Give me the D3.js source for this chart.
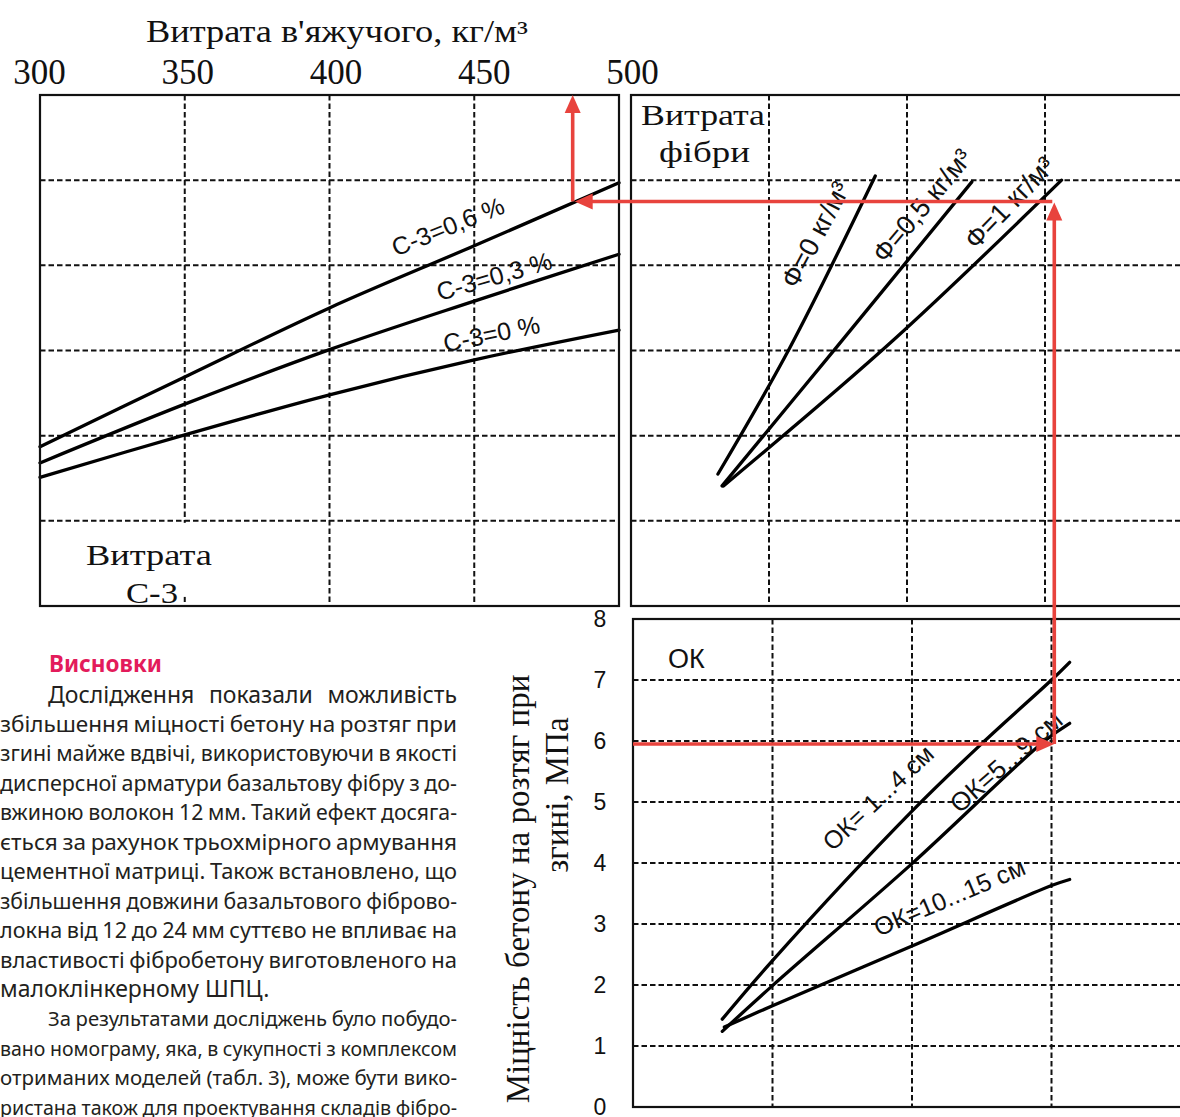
<!DOCTYPE html>
<html>
<head>
<meta charset="utf-8">
<script src="https://cdn.jsdelivr.net/npm/d3@7"></script>
<style>
  body { margin: 0; background: #fff; }
  svg { display: block; }
</style>
</head>
<body>
<svg id="nomogram" width="1180" height="1117"></svg>
<script>
// ---------- data ----------
// binder consumption, kg/m3 (top-left quadrant)
const binderTicks = [300, 350, 400, 450, 500];
const binderPoints = [300, 350, 400, 450, 500];
const c3Names = ["С-3=0,6 %", "С-3=0,3 %", "С-3=0 %"];
const c3High = [1.87, 2.69, 3.50, 4.23, 4.97];
const c3Mid = [1.68, 2.37, 3.01, 3.58, 4.13];
const c3Zero = [1.51, 2.01, 2.48, 2.89, 3.24];

// fibre consumption (top-right quadrant)
const fibreNames = ["Ф=0 кг/м³", "Ф=0,5 кг/м³", "Ф=1 кг/м³"];
const fibre0X = [0.63, 1.15, 1.77];
const fibre0Y = [1.55, 3.03, 5.05];
const fibre05X = [0.66, 1.49, 2.47];
const fibre05Y = [1.41, 3.04, 4.98];
const fibre1X = [0.67, 1.90, 3.12];
const fibre1Y = [1.41, 3.12, 5.00];

// slump, strength in MPa (bottom-right quadrant)
const slumpNames = ["ОК= 1...4 см", "ОК=5...9 см", "ОК=10...15 см"];
const slump14X = [0.64, 1.00, 2.00, 2.52, 3.00, 3.13];
const slump14Y = [1.44, 2.40, 4.85, 6.00, 7.00, 7.29];
const slump59X = [0.64, 1.00, 2.00, 2.95, 3.13];
const slump59Y = [1.24, 1.99, 3.99, 6.00, 6.29];
const slump1015X = [0.655, 1.00, 2.00, 3.00, 3.13];
const slump1015Y = [1.31, 1.66, 2.64, 3.63, 3.73];
const strengthTicks = [0, 1, 2, 3, 4, 5, 6, 7, 8];

// worked example traced through the nomogram
const exampleStrength = 5.95;
const exampleSlump = 3.02;
const exampleLevel = 4.75;
const exampleBinder = 484;

// article text beside the chart
const heading = "Висновки";
const paragraphs = [
  [
    "Дослідження показали можливість",
    "збільшення міцності бетону на розтяг при",
    "згині майже вдвічі, використовуючи в якості",
    "дисперсної арматури базальтову фібру з до-",
    "вжиною волокон 12 мм. Такий ефект досяга-",
    "ється за рахунок трьохмірного армування",
    "цементної матриці. Також встановлено, що",
    "збільшення довжини базальтового фіброво-",
    "локна від 12 до 24 мм суттєво не впливає на",
    "властивості фібробетону виготовленого на",
    "малоклінкерному ШПЦ."
  ],
  [
    "За результатами досліджень було побудо-",
    "вано номограму, яка, в сукупності з комплексом",
    "отриманих моделей (табл. 3), може бути вико-",
    "ристана також для проектування складів фібро-"
  ]
];

// ---------- layout ----------
const svg = d3.select("#nomogram");
const SERIF = "'Liberation Serif', 'Times New Roman', serif";
const SANS = "'Noto Sans', 'Open Sans', sans-serif";
const LABEL = "'Liberation Sans', Arial, sans-serif";
const RED = "#e8433d";

const pTL = { x0: 40, x1: 619, y0: 95, y1: 606 };
const pTR = { x0: 631, x1: 1195, y0: 95, y1: 606 };
const pBR = { x0: 633, x1: 1195, y0: 619, y1: 1107 };

const xBinder = d3.scaleLinear().domain([300, 500]).range([pTL.x0, pTL.x1]);
const xBinderLabel = d3.scaleLinear().domain([300, 500]).range([39, 632]);
const yLevel = d3.scaleLinear().domain([0, 6]).range([pTL.y1, pTL.y0]);
const xFibre = d3.scaleLinear().domain([0, 4]).range([631, 1183]);
const xSlump = d3.scaleLinear().domain([0, 4]).range([633, 1191]);
const yStrength = d3.scaleLinear().domain([0, 8]).range([pBR.y1, pBR.y0]);

const gridStyle = sel => sel
  .attr("stroke", "#111").attr("stroke-width", 2)
  .attr("stroke-dasharray", "5.5,3").attr("fill", "none");

function grid(g, xScale, xVals, yScale, yVals, p) {
  g.append("g").selectAll("line").data(xVals).join("line")
    .attr("x1", d => xScale(d)).attr("x2", d => xScale(d))
    .attr("y1", p.y0).attr("y2", p.y1).call(gridStyle);
  g.append("g").selectAll("line").data(yVals).join("line")
    .attr("x1", p.x0).attr("x2", p.x1)
    .attr("y1", d => yScale(d)).attr("y2", d => yScale(d)).call(gridStyle);
}

function frame(g, p) {
  g.append("rect").attr("x", p.x0).attr("y", p.y0)
    .attr("width", p.x1 - p.x0).attr("height", p.y1 - p.y0)
    .attr("fill", "none").attr("stroke", "#111").attr("stroke-width", 2.2);
}

function curve(g, xs, ys, xScale, yScale) {
  const pts = xs.map((x, i) => [x, ys[i]]);
  g.append("path").datum(pts)
    .attr("d", d3.line().x(d => xScale(d[0])).y(d => yScale(d[1])).curve(d3.curveCatmullRom.alpha(0.5)))
    .attr("fill", "none").attr("stroke", "#000").attr("stroke-width", 3.3)
    .attr("stroke-linecap", "round");
}

function tag(g, text, x, y, angle, size) {
  g.append("text").attr("transform", `translate(${x},${y}) rotate(${-angle})`)
    .attr("font-family", LABEL).attr("font-size", size).attr("fill", "#111").text(text);
}

// serif caption, widened to the printed width
function caption(g, text, x, y, size, width) {
  g.append("text").attr("x", x).attr("y", y)
    .attr("font-family", SERIF).attr("font-size", size).attr("fill", "#111")
    .attr("textLength", width).attr("lengthAdjust", "spacingAndGlyphs").text(text);
}

// ---------- top-left: binder consumption ----------
const gTL = svg.append("g");
grid(gTL, xBinder, [350, 400, 450], yLevel, [1, 2, 3, 4, 5], pTL);
// white box behind the quadrant caption
gTL.append("rect").attr("x", 80).attr("y", yLevel(1) + 2).attr("width", 150)
  .attr("height", 74).attr("fill", "#fff");
curve(gTL, binderPoints, c3High, xBinder, yLevel);
curve(gTL, binderPoints, c3Mid, xBinder, yLevel);
curve(gTL, binderPoints, c3Zero, xBinder, yLevel);
tag(gTL, c3Names[0], xBinder(423), yLevel(4.10), 22, 25);
tag(gTL, c3Names[1], xBinder(438), yLevel(3.58), 16, 25);
tag(gTL, c3Names[2], xBinder(440), yLevel(2.98), 11.5, 25);
caption(gTL, "Витрата", 86, 565, 30, 126);
caption(gTL, "С-3", 126, 603, 30, 52);
frame(gTL, pTL);

// top axis
const axTop = svg.append("g").attr("transform", "translate(0,84)")
  .call(d3.axisTop(xBinderLabel).tickValues(binderTicks).tickSize(0).tickPadding(0));
axTop.select(".domain").remove();
axTop.selectAll("text").attr("font-family", SERIF).attr("font-size", 35).attr("fill", "#111")
  .attr("dy", 0);
caption(svg, "Витрата в'яжучого, кг/м³", 146, 42, 31, 382);

// ---------- top-right: fibre consumption ----------
const gTR = svg.append("g");
grid(gTR, xFibre, [1, 2, 3], yLevel, [1, 2, 3, 4, 5], pTR);
curve(gTR, fibre0X, fibre0Y, xFibre, yLevel);
curve(gTR, fibre05X, fibre05Y, xFibre, yLevel);
curve(gTR, fibre1X, fibre1Y, xFibre, yLevel);
tag(gTR, fibreNames[0], xFibre(1.20), yLevel(3.71), 62, 27);
tag(gTR, fibreNames[1], xFibre(1.84), yLevel(4.01), 50, 27);
tag(gTR, fibreNames[2], xFibre(2.50), yLevel(4.17), 46, 27);
caption(gTR, "Витрата", 641, 125, 30, 124);
caption(gTR, "фібри", 659, 162, 30, 91);
frame(gTR, pTR);

// ---------- bottom-right: slump vs strength ----------
const gBR = svg.append("g");
grid(gBR, xSlump, [1, 2, 3], yStrength, [1, 2, 3, 4, 5, 6, 7], pBR);
curve(gBR, slump14X, slump14Y, xSlump, yStrength);
curve(gBR, slump59X, slump59Y, xSlump, yStrength);
curve(gBR, slump1015X, slump1015Y, xSlump, yStrength);
tag(gBR, slumpNames[0], xSlump(1.43), yStrength(4.18), 43, 25);
tag(gBR, slumpNames[1], xSlump(2.34), yStrength(4.80), 41, 26);
tag(gBR, slumpNames[2], xSlump(1.76), yStrength(2.79), 23, 25);
gBR.append("text").attr("x", 668).attr("y", 668)
  .attr("font-family", LABEL).attr("font-size", 27).attr("fill", "#111").text("ОК");
frame(gBR, pBR);

const axLeft = svg.append("g").attr("transform", `translate(${pBR.x0},0)`)
  .call(d3.axisLeft(yStrength).tickValues(strengthTicks).tickSize(0).tickPadding(0));
axLeft.select(".domain").remove();
axLeft.selectAll("text").attr("x", -33).attr("text-anchor", "middle")
  .attr("font-family", LABEL).attr("font-size", 23).attr("fill", "#111");

// rotated axis title
svg.append("text").attr("transform", "translate(529,889) rotate(-90)")
  .attr("text-anchor", "middle").attr("font-family", SERIF).attr("font-size", 33)
  .attr("fill", "#111").text("Міцність бетону на розтяг при");
svg.append("text").attr("transform", "translate(568,795) rotate(-90)")
  .attr("text-anchor", "middle").attr("font-family", SERIF).attr("font-size", 33)
  .attr("fill", "#111").text("згині, МПа");

// ---------- worked example (red) ----------
const gEx = svg.append("g");
const ex = {
  yS: yStrength(exampleStrength),
  xV: xSlump(exampleSlump),
  yL: yLevel(exampleLevel),
  xB: xBinder(exampleBinder)
};
const redLine = (x1, y1, x2, y2) => gEx.append("line")
  .attr("x1", x1).attr("y1", y1).attr("x2", x2).attr("y2", y2)
  .attr("stroke", RED).attr("stroke-width", 3.6);
function arrowHead(x, y, dir) {
  const L = 18, h = 8;
  const pts = {
    right: [[x, y], [x - L, y - h], [x - L, y + h]],
    up: [[x, y], [x - h, y + L], [x + h, y + L]],
    left: [[x, y], [x + L, y - h], [x + L, y + h]]
  }[dir];
  gEx.append("path").attr("d", d3.line()(pts) + "Z").attr("fill", RED);
}
redLine(pBR.x0, ex.yS, ex.xV - 12, ex.yS);
arrowHead(ex.xV, ex.yS, "right");
redLine(ex.xV, ex.yS, ex.xV, ex.yL + 14);
arrowHead(ex.xV, ex.yL + 1, "up");
redLine(ex.xV - 2, ex.yL, ex.xB + 14, ex.yL);
arrowHead(ex.xB + 2, ex.yL, "left");
redLine(ex.xB, ex.yL, ex.xB, pTL.y0 + 14);
arrowHead(ex.xB, pTL.y0, "up");

// ---------- article text ----------
const FS = 23;
const gTxt = svg.append("g").attr("font-family", SANS).attr("font-size", FS).attr("fill", "#231f20");
svg.append("text").attr("x", 49).attr("y", 672).attr("font-family", SANS)
  .attr("font-weight", 700).attr("font-size", 22.5).attr("fill", "#e31b5b").text(heading);

// words placed one by one; justified lines spread the spare room between them,
// over-full lines are set a little smaller
function setLine(text, x0, x1, y, justify) {
  const words = text.split(" ");
  const nodes = words.map(w => gTxt.append("text").attr("y", y).text(w));
  let widths = nodes.map(n => n.node().getComputedTextLength());
  const n = words.length;
  const minGap = FS * 0.2;
  let gap = FS * 0.26;
  if (justify && n > 1) {
    let sum = d3.sum(widths);
    if (sum + minGap * (n - 1) > x1 - x0) {
      const f = (x1 - x0 - minGap * (n - 1)) / sum;
      nodes.forEach(nd => nd.attr("font-size", FS * f));
      widths = nodes.map(nd => nd.node().getComputedTextLength());
      sum = d3.sum(widths);
    }
    gap = (x1 - x0 - sum) / (n - 1);
  }
  let x = x0;
  nodes.forEach((nd, i) => { nd.attr("x", x); x += widths[i] + gap; });
}

const colLeft = 0, colRight = 457, indent = 48, lead = 29.45;
let base = 702.5;
paragraphs.forEach((lines, pi) => {
  lines.forEach((line, li) => {
    const last = li === lines.length - 1 && pi === 0;
    setLine(line, li === 0 ? colLeft + indent : colLeft, colRight, base, !last);
    base += lead;
  });
});
</script>
</body>
</html>
